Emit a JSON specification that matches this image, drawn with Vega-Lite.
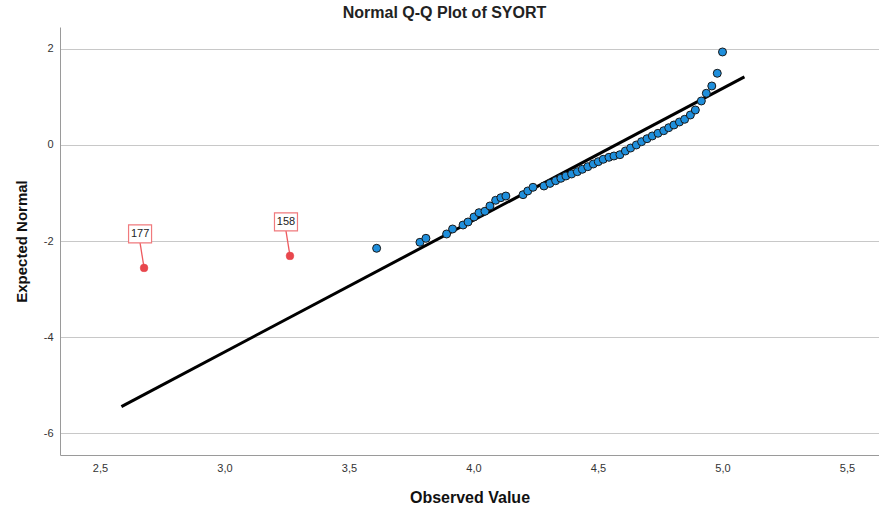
{
  "$schema": "https://vega.github.io/schema/vega-lite/v6.json",
  "width": 819,
  "height": 428,
  "autosize": {"type": "none"},
  "padding": {"left": 60, "top": 27, "right": 0, "bottom": 59},
  "background": "white",
  "title": {
    "text": "Normal Q-Q Plot of SYORT",
    "font": "Liberation Sans",
    "fontSize": 16,
    "fontWeight": "bold",
    "color": "#222222",
    "anchor": "middle",
    "dx": -25,
    "offset": 6
  },
  "config": {
    "view": {"stroke": null},
    "font": "Liberation Sans"
  },
  "datasets": {
    "qq": [
      {"observed": 2.677, "expected": -2.56, "kind": "outlier", "case": "177"},
      {"observed": 3.263, "expected": -2.31, "kind": "outlier", "case": "158"},
      {"observed": 3.611, "expected": -2.152, "kind": "normal", "case": ""},
      {"observed": 3.785, "expected": -2.027, "kind": "normal", "case": ""},
      {"observed": 3.809, "expected": -1.944, "kind": "normal", "case": ""},
      {"observed": 3.892, "expected": -1.854, "kind": "normal", "case": ""},
      {"observed": 3.916, "expected": -1.75, "kind": "normal", "case": ""},
      {"observed": 3.958, "expected": -1.667, "kind": "normal", "case": ""},
      {"observed": 3.978, "expected": -1.604, "kind": "normal", "case": ""},
      {"observed": 4.002, "expected": -1.5, "kind": "normal", "case": ""},
      {"observed": 4.022, "expected": -1.41, "kind": "normal", "case": ""},
      {"observed": 4.046, "expected": -1.38, "kind": "normal", "case": ""},
      {"observed": 4.066, "expected": -1.27, "kind": "normal", "case": ""},
      {"observed": 4.089, "expected": -1.152, "kind": "normal", "case": ""},
      {"observed": 4.11, "expected": -1.098, "kind": "normal", "case": ""},
      {"observed": 4.13, "expected": -1.063, "kind": "normal", "case": ""},
      {"observed": 4.199, "expected": -1.035, "kind": "normal", "case": ""},
      {"observed": 4.218, "expected": -0.958, "kind": "normal", "case": ""},
      {"observed": 4.239, "expected": -0.881, "kind": "normal", "case": ""},
      {"observed": 4.283, "expected": -0.854, "kind": "normal", "case": ""},
      {"observed": 4.307, "expected": -0.8, "kind": "normal", "case": ""},
      {"observed": 4.33, "expected": -0.744, "kind": "normal", "case": ""},
      {"observed": 4.351, "expected": -0.694, "kind": "normal", "case": ""},
      {"observed": 4.371, "expected": -0.646, "kind": "normal", "case": ""},
      {"observed": 4.394, "expected": -0.604, "kind": "normal", "case": ""},
      {"observed": 4.417, "expected": -0.556, "kind": "normal", "case": ""},
      {"observed": 4.437, "expected": -0.506, "kind": "normal", "case": ""},
      {"observed": 4.459, "expected": -0.452, "kind": "normal", "case": ""},
      {"observed": 4.481, "expected": -0.396, "kind": "normal", "case": ""},
      {"observed": 4.501, "expected": -0.348, "kind": "normal", "case": ""},
      {"observed": 4.521, "expected": -0.298, "kind": "normal", "case": ""},
      {"observed": 4.544, "expected": -0.256, "kind": "normal", "case": ""},
      {"observed": 4.564, "expected": -0.229, "kind": "normal", "case": ""},
      {"observed": 4.588, "expected": -0.202, "kind": "normal", "case": ""},
      {"observed": 4.61, "expected": -0.125, "kind": "normal", "case": ""},
      {"observed": 4.631, "expected": -0.063, "kind": "normal", "case": ""},
      {"observed": 4.654, "expected": 0.0, "kind": "normal", "case": ""},
      {"observed": 4.675, "expected": 0.069, "kind": "normal", "case": ""},
      {"observed": 4.697, "expected": 0.131, "kind": "normal", "case": ""},
      {"observed": 4.718, "expected": 0.188, "kind": "normal", "case": ""},
      {"observed": 4.741, "expected": 0.244, "kind": "normal", "case": ""},
      {"observed": 4.764, "expected": 0.298, "kind": "normal", "case": ""},
      {"observed": 4.784, "expected": 0.36, "kind": "normal", "case": ""},
      {"observed": 4.805, "expected": 0.417, "kind": "normal", "case": ""},
      {"observed": 4.827, "expected": 0.479, "kind": "normal", "case": ""},
      {"observed": 4.848, "expected": 0.535, "kind": "normal", "case": ""},
      {"observed": 4.871, "expected": 0.625, "kind": "normal", "case": ""},
      {"observed": 4.891, "expected": 0.729, "kind": "normal", "case": ""},
      {"observed": 4.915, "expected": 0.917, "kind": "normal", "case": ""},
      {"observed": 4.935, "expected": 1.077, "kind": "normal", "case": ""},
      {"observed": 4.957, "expected": 1.229, "kind": "normal", "case": ""},
      {"observed": 4.979, "expected": 1.494, "kind": "normal", "case": ""},
      {"observed": 5.0, "expected": 1.938, "kind": "normal", "case": ""}
    ],
    "ref": [
      {"observed": 2.586, "expected": -5.45},
      {"observed": 5.088, "expected": 1.42}
    ]
  },
  "encoding": {
    "x": {
      "field": "observed",
      "type": "quantitative",
      "scale": {"domain": [2.3394, 5.6285], "nice": false, "zero": false},
      "axis": {
        "title": "Observed Value",
        "titleFont": "Liberation Sans",
        "titleFontSize": 16,
        "titleFontWeight": "bold",
        "titleColor": "#111111",
        "titlePadding": 16,
        "values": [2.5, 3.0, 3.5, 4.0, 4.5, 5.0, 5.5],
        "labelExpr": "replace(format(datum.value, '.1f'), '.', ',')",
        "labelFont": "Liberation Sans",
        "labelFontSize": 11,
        "labelColor": "#333333",
        "labelPadding": 7,
        "ticks": false,
        "grid": false,
        "domainColor": "#9a9a9a",
        "domainWidth": 1
      }
    },
    "y": {
      "field": "expected",
      "type": "quantitative",
      "scale": {"domain": [-6.458, 2.458], "nice": false, "zero": false},
      "axis": {
        "title": "Expected Normal",
        "titleFont": "Liberation Sans",
        "titleFontSize": 15,
        "titleFontWeight": "bold",
        "titleColor": "#111111",
        "titlePadding": 14,
        "values": [-6, -4, -2, 0, 2],
        "labelExpr": "datum.value < 0 ? '-' + abs(datum.value) : '' + datum.value",
        "labelFont": "Liberation Sans",
        "labelFontSize": 11,
        "labelColor": "#333333",
        "labelPadding": 7,
        "ticks": false,
        "grid": true,
        "gridColor": "#c8c8c8",
        "gridWidth": 1,
        "domainColor": "#9a9a9a",
        "domainWidth": 1
      }
    }
  },
  "layer": [
    {
      "data": {"name": "ref"},
      "mark": {"type": "line", "color": "#000000", "strokeWidth": 3, "strokeCap": "butt"}
    },
    {
      "data": {"name": "qq"},
      "transform": [{"filter": "datum.kind === 'normal'"}],
      "mark": {"type": "point", "shape": "circle", "filled": true, "size": 64, "fill": "#1f8fdc", "stroke": "#1a1a1a", "strokeWidth": 1, "opacity": 1}
    },
    {
      "data": {"name": "qq"},
      "transform": [{"filter": "datum.kind === 'outlier'"}],
      "mark": {"type": "rule", "color": "#ee5a5e", "strokeWidth": 1.3, "x2Offset": -4, "y2Offset": -25},
      "encoding": {
        "x2": {"field": "observed"},
        "y2": {"field": "expected"}
      }
    },
    {
      "data": {"name": "qq"},
      "transform": [{"filter": "datum.kind === 'outlier'"}],
      "mark": {"type": "point", "shape": "circle", "filled": true, "size": 60, "fill": "#e8474d", "stroke": "#e8474d", "strokeWidth": 0.5, "opacity": 1}
    },
    {
      "data": {"name": "qq"},
      "transform": [{"filter": "datum.kind === 'outlier'"}],
      "mark": {"type": "point", "shape": "M-1,-0.78L1,-0.78L1,0.78L-1,0.78Z", "size": 529, "filled": true, "fill": "#ffffff", "stroke": "#f07a7d", "strokeWidth": 1.2, "opacity": 1, "xOffset": -4, "yOffset": -34}
    },
    {
      "data": {"name": "qq"},
      "transform": [{"filter": "datum.kind === 'outlier'"}],
      "mark": {"type": "text", "font": "Liberation Sans", "fontSize": 11, "color": "#222222", "dx": -4, "dy": -34, "baseline": "middle", "align": "center"},
      "encoding": {"text": {"field": "case"}}
    }
  ]
}
